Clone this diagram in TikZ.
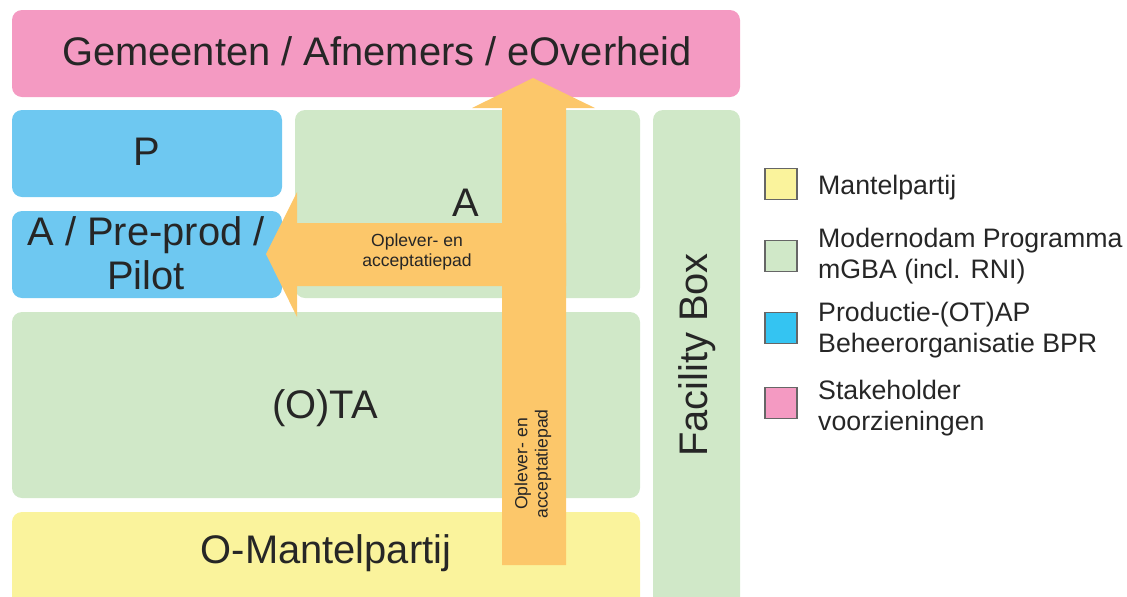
\documentclass[tikz,border=0pt]{standalone}
\usepackage{fontspec}
\setmainfont{Liberation Sans}
\definecolor{stakepink}{RGB}{244,154,194}
\definecolor{prodblue}{RGB}{110,200,241}
\definecolor{legblue}{RGB}{52,196,242}
\definecolor{mgbagreen}{RGB}{208,232,200}
\definecolor{mantelyellow}{RGB}{250,243,156}
\definecolor{padorange}{RGB}{252,199,106}
\tikzset{
  blok/.style={rounded corners=0.2cm},
  groot/.style={font=\fontsize{22.7}{25}\selectfont, align=center, text=black!85},
  padtekst/.style={font=\fontsize{10}{11.5}\selectfont, align=center, text=black!85},
  legtekst/.style={font=\fontsize{15.2}{17.9}\selectfont, align=left, anchor=west, text=black!85}
}
\begin{document}
\begin{tikzpicture}[x=0.02cm,y=-0.02cm]
                \useasboundingbox (0,0) rectangle (1127,596);
                % Draw the coloured blocks
                \fill[stakepink, blok] (12,10) rectangle (740,97);
                \fill[prodblue, blok] (12,110) rectangle (282,197);
                \fill[prodblue, blok] (12,211) rectangle (282,298);
                \fill[mgbagreen, blok] (295,110) rectangle (640,298);
                \fill[mgbagreen, blok] (12,312) rectangle (640,498);
                \fill[mantelyellow, blok] (12,512) rectangle (640,612);
                \fill[mgbagreen, blok] (653,110) rectangle (740,612);
                % Draw the block texts
                \node[groot] (afnemers) at (377,51) {Gemeenten / Afnemers / eOverheid};
                \node[groot] (p) at (147,152) {P};
                \node[groot] (preprod) at (146,253) {A / Pre-prod /\\Pilot};
                \node[groot] (a) at (466,203) {A};
                \node[groot] (ota) at (325,408) {(O)TA};
                \node[groot] (mantel) at (326,553) {O-Mantelpartij};
                \node[groot, rotate=90] (facility) at (697,355) {Facility Box};
                % Draw the two acceptance paths
                \fill[padorange] (566,223) -- (297,223) -- (297,192) -- (266,254)
                    -- (297,317) -- (297,286) -- (566,286) -- cycle;
                \fill[padorange] (502,565) -- (502,108) -- (472,108) -- (533,78)
                    -- (595,108) -- (566,108) -- (566,565) -- cycle;
                \node[padtekst] (padlinks) at (417,252) {Oplever- en\\acceptatiepad};
                \node[padtekst, rotate=90] (padop) at (533,464) {Oplever- en\\acceptatiepad};
                % Draw the legend
                \foreach \kleur/\y/\ty/\tekst/\naam in {mantelyellow/184/188/Mantelpartij/lmantel,
                    mgbagreen/256/256/{Modernodam Programma\\mGBA (incl. RNI)}/lmgba,
                    legblue/328/330/{Productie-(OT)AP\\Beheerorganisatie BPR}/lprod,
                    stakepink/403/408/{Stakeholder\\voorzieningen}/lstake}{
                    \filldraw[fill=\kleur, draw=black!60, line width=0.6pt] (765,\y-15.5) rectangle (797,\y+15.5);
                    \node[legtekst] (\naam) at (812,\ty) {\tekst};
                }
            \end{tikzpicture}
\end{document}
